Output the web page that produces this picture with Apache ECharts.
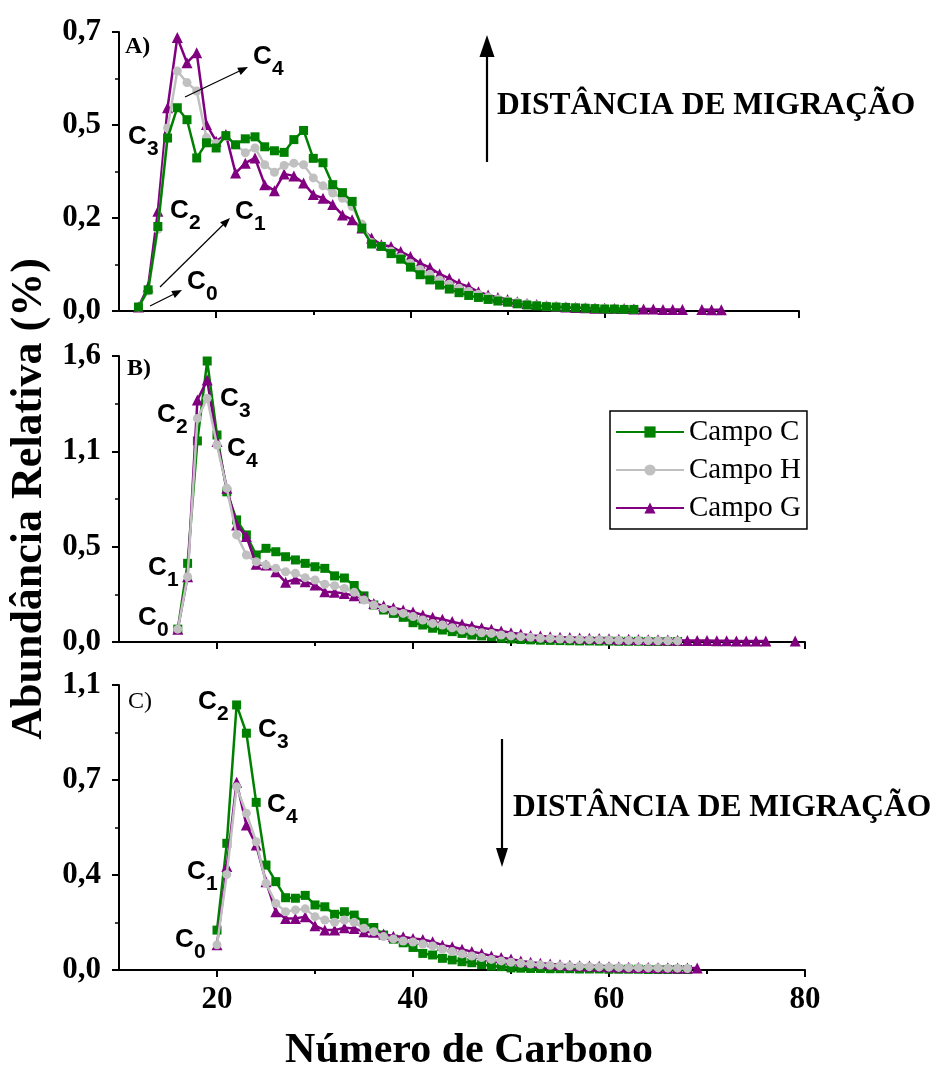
<!DOCTYPE html>
<html>
<head>
<meta charset="utf-8">
<script src="https://cdn.jsdelivr.net/npm/echarts@6/dist/echarts.min.js"></script>
<style>
  html, body { margin: 0; padding: 0; background: #fff; }
  #chart { width: 936px; height: 1070px; }
</style>
</head>
<body>
<div id="chart"></div>
<script>
// número de carbono inicial de cada painel
const startA = 12, startB = 16, startC = 20;

// Painel A) abundância relativa (%)
const campoC_A = [0.010, 0.053, 0.212, 0.434, 0.510, 0.480, 0.384, 0.422, 0.409, 0.440,
  0.417, 0.432, 0.437, 0.412, 0.402, 0.398, 0.430, 0.453, 0.383, 0.372,
  0.317, 0.297, 0.275, 0.208, 0.168, 0.162, 0.144, 0.130, 0.110, 0.091,
  0.078, 0.065, 0.055, 0.046, 0.039, 0.034, 0.029, 0.025, 0.022, 0.018,
  0.015, 0.013, 0.011, 0.010, 0.009, 0.008, 0.007, 0.006, 0.005, 0.005,
  0.004, 0.004];
const campoH_A = [0.010, 0.050, 0.205, 0.459, 0.602, 0.573, 0.552, 0.435, 0.420, 0.438,
  0.417, 0.397, 0.409, 0.367, 0.348, 0.365, 0.371, 0.367, 0.334, 0.314,
  0.296, 0.283, 0.262, 0.218, 0.172, 0.163, 0.150, 0.135, 0.120, 0.104,
  0.092, 0.078, 0.067, 0.057, 0.049, 0.042, 0.035, 0.030, 0.026, 0.022,
  0.018, 0.015, 0.013, 0.011, 0.010, 0.009, 0.008, 0.007, 0.006, 0.005,
  0.005, 0.004];
const campoG_A = [0.010, 0.061, 0.250, 0.510, 0.686, 0.623, 0.648, 0.468, 0.426, 0.443,
  0.346, 0.371, 0.384, 0.317, 0.302, 0.344, 0.339, 0.321, 0.292, 0.283,
  0.267, 0.241, 0.229, 0.208, 0.183, 0.166, 0.162, 0.149, 0.137, 0.120,
  0.109, 0.093, 0.082, 0.069, 0.061, 0.048, 0.040, 0.034, 0.029, 0.023,
  0.019, 0.016, 0.013, 0.011, 0.010, 0.009, 0.008, 0.007, 0.007, 0.006,
  0.006, 0.005, 0.005, 0.005, 0.004, 0.004, 0.004, null, 0.004, 0.003,
  0.003];

// Painel B)
const campoC_B = [0.072, 0.440, 1.125, 1.572, 1.158, 0.840, 0.683, 0.599, 0.487, 0.524,
  0.505, 0.477, 0.459, 0.440, 0.421, 0.412, 0.370, 0.358, 0.316, 0.258,
  0.207, 0.179, 0.160, 0.138, 0.108, 0.095, 0.077, 0.067, 0.058, 0.048,
  0.039, 0.034, 0.030, 0.021, 0.017, 0.014, 0.012, 0.010, 0.009, 0.008,
  0.007, 0.006, 0.006, 0.005, 0.005, 0.004, 0.004, 0.004, 0.003, 0.003,
  0.003, 0.003];
const campoH_B = [0.072, 0.365, 1.251, 1.363, 1.102, 0.860, 0.599, 0.487, 0.449, 0.431,
  0.412, 0.393, 0.384, 0.360, 0.347, 0.323, 0.315, 0.300, 0.278, 0.235,
  0.207, 0.188, 0.173, 0.160, 0.142, 0.123, 0.104, 0.095, 0.080, 0.067,
  0.062, 0.052, 0.048, 0.039, 0.034, 0.030, 0.026, 0.021, 0.020, 0.017,
  0.016, 0.014, 0.013, 0.012, 0.011, 0.010, 0.009, 0.008, 0.008, 0.007,
  0.007, 0.006];
const campoG_B = [0.072, 0.365, 1.354, 1.466, 1.121, 0.860, 0.655, 0.590, 0.435, 0.431,
  0.393, 0.334, 0.352, 0.337, 0.319, 0.281, 0.278, 0.272, 0.259, 0.248,
  0.216, 0.203, 0.192, 0.179, 0.168, 0.151, 0.138, 0.127, 0.114, 0.101,
  0.090, 0.080, 0.071, 0.062, 0.052, 0.045, 0.037, 0.034, 0.030, 0.027,
  0.025, 0.023, 0.021, 0.019, 0.018, 0.016, 0.015, 0.014, 0.013, 0.012,
  0.011, 0.010, 0.009, 0.008, 0.008, 0.007, 0.007, 0.006, 0.006, 0.005,
  0.005, null, null, 0.005];

// Painel C)
const campoC_C = [0.154, 0.489, 1.023, 0.914, 0.647, 0.405, 0.341, 0.279, 0.277, 0.288,
  0.251, 0.244, 0.215, 0.225, 0.212, 0.183, 0.164, 0.135, 0.119, 0.105,
  0.087, 0.064, 0.058, 0.045, 0.039, 0.032, 0.028, 0.021, 0.015, 0.013,
  0.008, 0.007, 0.006, 0.006, 0.005, 0.005, 0.005, 0.004, 0.004, 0.004,
  0.003, 0.003, 0.003, 0.003, 0.002, 0.002, 0.002, 0.002, 0.002];
const campoH_C = [0.097, 0.369, 0.707, 0.605, 0.495, 0.335, 0.257, 0.225, 0.232, 0.236,
  0.206, 0.193, 0.184, 0.193, 0.184, 0.161, 0.148, 0.129, 0.120, 0.112,
  0.108, 0.100, 0.093, 0.080, 0.071, 0.062, 0.054, 0.048, 0.041, 0.035,
  0.030, 0.026, 0.023, 0.020, 0.018, 0.016, 0.015, 0.014, 0.013, 0.012,
  0.011, 0.010, 0.009, 0.009, 0.008, 0.008, 0.007, 0.007, 0.006];
const campoG_C = [0.097, 0.399, 0.725, 0.560, 0.482, 0.341, 0.225, 0.199, 0.199, 0.206,
  0.171, 0.154, 0.154, 0.163, 0.160, 0.148, 0.146, 0.139, 0.130, 0.128,
  0.122, 0.118, 0.109, 0.096, 0.090, 0.080, 0.071, 0.064, 0.054, 0.048,
  0.042, 0.035, 0.030, 0.026, 0.023, 0.020, 0.018, 0.016, 0.015, 0.014,
  0.013, 0.012, 0.011, 0.010, 0.010, 0.009, 0.009, 0.008, 0.008, 0.008];

// escalas dos eixos y (max, 3 intervalos iguais)
const yMax = [0.7, 1.6, 1.1];
const xTicksMajor = [20, 40, 60, 80];
const xTicksMinor = [30, 50, 70];
const legendNames = ['Campo C', 'Campo H', 'Campo G'];

const serif = '"Liberation Serif", "Times New Roman", serif';
const sans = '"Liberation Sans", Arial, sans-serif';
const cores = { 'Campo C': '#008000', 'Campo H': '#c0c0c0', 'Campo G': '#800080' };
const simbolos = { 'Campo C': ['rect', 9], 'Campo H': ['circle', 9], 'Campo G': ['triangle', 11] };

const myChart = echarts.init(document.getElementById('chart'));

// posição dos paineis
const grids = [
  { left: 119, top: 32, width: 680, height: 279, outerBoundsMode: 'none' },
  { left: 119, top: 356, width: 686, height: 286, outerBoundsMode: 'none' },
  { left: 119, top: 685, width: 686, height: 285, outerBoundsMode: 'none' }
];

function pares(start, arr) {
  return arr.map((v, i) => [start + i, v]);
}

const xAxes = [];
const yAxes = [];
grids.forEach((g, i) => {
  const last = i === 2;
  // eixo principal (ticks menores)
  xAxes.push({
    type: 'value', gridIndex: i, min: 10, max: 80, interval: 10,
    position: 'bottom',
    axisLine: { show: true, onZero: false, lineStyle: { color: '#000', width: 2 } },
    axisTick: { show: true, customValues: xTicksMinor, length: 4, lineStyle: { color: '#000', width: 2 } },
    axisLabel: { show: false },
    splitLine: { show: false },
    name: last ? 'Número de Carbono' : '',
    nameLocation: 'middle',
    nameGap: 60,
    nameTextStyle: { fontFamily: serif, fontWeight: 'bold', fontSize: 42, color: '#000', padding: [0, 0, 0, 14] }
  });
  // eixo sobreposto (ticks maiores e rótulos)
  xAxes.push({
    type: 'value', gridIndex: i, min: 10, max: 80, interval: 10,
    position: 'bottom',
    axisLine: { show: false },
    axisTick: { show: true, customValues: xTicksMajor, length: 7, lineStyle: { color: '#000', width: 2 } },
    axisLabel: {
      show: last, customValues: xTicksMajor, margin: 14,
      fontFamily: serif, fontWeight: 'bold', fontSize: 31, color: '#000'
    },
    splitLine: { show: false }
  });
  yAxes.push({
    type: 'value', gridIndex: i, min: 0, max: yMax[i], interval: yMax[i] / 3,
    axisLine: { show: true, lineStyle: { color: '#000', width: 2 } },
    axisTick: { show: true, length: 7, lineStyle: { color: '#000', width: 2 } },
    minorTick: { show: true, splitNumber: 2, length: 4, lineStyle: { color: '#000', width: 1.5 } },
    axisLabel: {
      margin: 18, fontFamily: serif, fontWeight: 'bold', fontSize: 31, color: '#000',
      formatter: v => v.toFixed(1).replace('.', ',')
    },
    splitLine: { show: false },
    name: i === 1 ? 'Abundância Relativa (%)' : '',
    nameLocation: 'middle',
    nameGap: 62,
    nameRotate: 90,
    nameTextStyle: { fontFamily: serif, fontWeight: 'bold', fontSize: 44, color: '#000' }
  });
});

const painelDados = [
  { start: startA, C: campoC_A, H: campoH_A, G: campoG_A, z: { 'Campo C': 4, 'Campo H': 3, 'Campo G': 2 } },
  { start: startB, C: campoC_B, H: campoH_B, G: campoG_B, z: { 'Campo C': 2, 'Campo H': 4, 'Campo G': 3 } },
  { start: startC, C: campoC_C, H: campoH_C, G: campoG_C, z: { 'Campo C': 2, 'Campo H': 4, 'Campo G': 3 } }
];

const seriesData = [];
painelDados.forEach((p, i) => {
  [['Campo C', p.C], ['Campo H', p.H], ['Campo G', p.G]].forEach(([nome, arr]) => {
    seriesData.push({
      name: nome,
      type: 'line',
      xAxisIndex: i * 2,
      yAxisIndex: i,
      data: pares(p.start, arr),
      symbol: simbolos[nome][0],
      symbolSize: simbolos[nome][1],
      showAllSymbol: true,
      connectNulls: false,
      clip: false,
      z: p.z[nome],
      lineStyle: { width: 2.5, color: cores[nome] },
      itemStyle: { color: cores[nome] },
      emphasis: { disabled: true }
    });
  });
});

// rótulos C0..C4 (C com subscrito)
function rotuloC(x, y, n) {
  return [
    { type: 'text', x: x, y: y, z: 100,
      style: { text: 'C', fontFamily: sans, fontWeight: 'bold', fontSize: 26, fill: '#000', verticalAlign: 'middle' } },
    { type: 'text', x: x + 19, y: y + 12, z: 100,
      style: { text: String(n), fontFamily: sans, fontWeight: 'bold', fontSize: 21, fill: '#000', verticalAlign: 'middle' } }
  ];
}

function seta(x1, y1, x2, y2, w, hl, hw) {
  const a = Math.atan2(y2 - y1, x2 - x1);
  const bx = x2 - hl * Math.cos(a), by = y2 - hl * Math.sin(a);
  const px = -Math.sin(a) * hw, py = Math.cos(a) * hw;
  return [
    { type: 'line', z: 100, shape: { x1: x1, y1: y1, x2: bx, y2: by }, style: { stroke: '#000', lineWidth: w } },
    { type: 'polygon', z: 100, shape: { points: [[x2, y2], [bx + px, by + py], [bx - px, by - py]] }, style: { fill: '#000' } }
  ];
}

function texto(x, y, t, size, weight) {
  return { type: 'text', x: x, y: y, z: 100,
    style: { text: t, fontFamily: serif, fontWeight: weight, fontSize: size, fill: '#000', verticalAlign: 'middle' } };
}

const graficos = [].concat(
  texto(125, 47, 'A)', 24, 'bold'),
  texto(127, 369, 'B)', 24, 'bold'),
  texto(128, 702, 'C)', 24, 'normal'),
  // painel A
  rotuloC(253, 57, 4), rotuloC(128, 137, 3), rotuloC(170, 211, 2), rotuloC(235, 212, 1), rotuloC(187, 282, 0),
  seta(185, 97, 248, 67, 1.2, 10, 4),
  seta(160, 287, 230, 218, 1.2, 10, 4),
  seta(150, 306, 182, 290, 1.2, 10, 4),
  seta(487, 162, 487, 35, 2.2, 22, 7.5),
  texto(497, 106, 'DISTÂNCIA DE MIGRAÇÃO', 31.5, 'bold'),
  // painel B
  rotuloC(157, 415, 2), rotuloC(220, 399, 3), rotuloC(227, 449, 4), rotuloC(148, 568, 1), rotuloC(138, 618, 0),
  // painel C
  rotuloC(198, 702, 2), rotuloC(258, 730, 3), rotuloC(267, 805, 4), rotuloC(187, 872, 1), rotuloC(175, 940, 0),
  seta(502, 739, 502, 867, 2.2, 19, 6),
  texto(513, 808, 'DISTÂNCIA DE MIGRAÇÃO', 31.5, 'bold')
);

myChart.setOption({
  animation: false,
  backgroundColor: '#fff',
  grid: grids,
  xAxis: xAxes,
  yAxis: yAxes,
  legend: {
    data: legendNames,
    orient: 'vertical',
    left: 610,
    top: 411,
    itemWidth: 68,
    itemHeight: 14,
    itemGap: 8,
    padding: [6, 6, 6, 5],
    borderColor: '#000',
    borderWidth: 1.5,
    textStyle: { fontFamily: serif, fontSize: 29, color: '#000', lineHeight: 30 }
  },
  graphic: graficos,
  series: seriesData
});
</script>
</body>
</html>
